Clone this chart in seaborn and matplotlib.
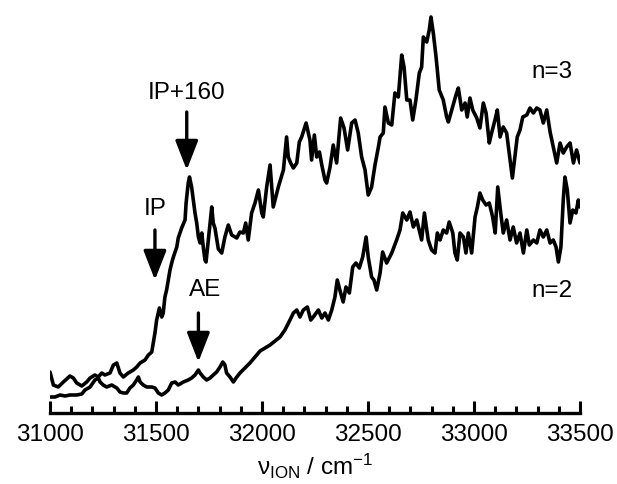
import numpy as np
import pandas as pd
import matplotlib
matplotlib.use("Agg")
import matplotlib.pyplot as plt
from matplotlib.ticker import MultipleLocator
import seaborn as sns

# ---- data (intensity in arbitrary units) ----
n3_freq = [31000, 31016, 31039, 31063, 31094, 31110, 31126, 31150, 31173, 31189,
           31212, 31228, 31244, 31259, 31283, 31299, 31315, 31330, 31346, 31369,
           31393, 31409, 31425, 31448, 31464, 31480, 31487, 31495, 31503, 31516,
           31527, 31534, 31542, 31550, 31558, 31566, 31574, 31582, 31598, 31605,
           31621, 31637, 31642, 31652, 31658, 31668, 31676, 31684, 31692, 31700,
           31708, 31716, 31723, 31731, 31736, 31747, 31755, 31758, 31763, 31770,
           31778, 31794, 31810, 31825, 31841, 31857, 31881, 31896, 31912, 31923,
           31935, 31951, 31967, 31983, 31999, 32006, 32022, 32038, 32053, 32077,
           32101, 32116, 32124, 32135, 32148, 32164, 32176, 32187, 32208, 32226,
           32234, 32247, 32258, 32271, 32282, 32297, 32305, 32321, 32336, 32352,
           32371, 32387, 32404, 32423, 32439, 32454, 32470, 32486, 32501, 32517,
           32533, 32549, 32557, 32572, 32580, 32596, 32612, 32627, 32643, 32659,
           32670, 32683, 32698, 32711, 32726, 32742, 32753, 32761, 32777, 32789,
           32797, 32808, 32821, 32836, 32855, 32871, 32879, 32895, 32915, 32926,
           32942, 32958, 32968, 32981, 32994, 33013, 33028, 33044, 33057, 33072,
           33083, 33099, 33110, 33123, 33138, 33154, 33170, 33181, 33193, 33204,
           33217, 33230, 33249, 33264, 33280, 33296, 33311, 33327, 33343, 33359,
           33374, 33390, 33406, 33421, 33437, 33453, 33469, 33484, 33500]
n3_signal = [41, 28, 26, 31, 37, 35, 30, 27, 31, 35,
             38, 36, 40, 38, 40, 48, 50, 40, 36, 40,
             43, 46, 50, 53, 58, 61, 70, 80, 93, 105,
             96, 100, 116, 123, 133, 143, 150, 156, 166, 175,
             185, 193, 210, 230, 236, 226, 213, 200, 190, 176,
             170, 180, 166, 153, 151, 173, 190, 196, 206, 190,
             185, 164, 160, 176, 188, 178, 175, 181, 180, 190,
             173, 200, 210, 223, 200, 196, 226, 248, 206, 226,
             243, 276, 256, 250, 245, 250, 271, 276, 290, 273,
             253, 278, 256, 261, 248, 233, 230, 246, 268, 250,
             295, 285, 263, 290, 293, 280, 256, 243, 218, 226,
             248, 266, 276, 280, 306, 290, 288, 320, 316, 358,
             346, 313, 313, 293, 313, 340, 346, 376, 371, 383,
             396, 380, 356, 323, 313, 296, 291, 303, 318, 325,
             303, 310, 296, 315, 303, 295, 285, 310, 300, 270,
             280, 293, 303, 276, 286, 280, 253, 235, 256, 276,
             283, 296, 298, 305, 300, 305, 303, 290, 303, 281,
             266, 250, 270, 260, 266, 270, 250, 263, 250]

n2_freq = [31000, 31024, 31047, 31071, 31094, 31126, 31150, 31165, 31189, 31212,
           31228, 31236, 31251, 31267, 31291, 31315, 31330, 31346, 31362, 31377,
           31393, 31409, 31417, 31425, 31440, 31456, 31480, 31495, 31511, 31527,
           31542, 31558, 31574, 31590, 31605, 31629, 31652, 31668, 31684, 31700,
           31708, 31723, 31739, 31755, 31770, 31786, 31802, 31815, 31825, 31833,
           31849, 31865, 31881, 31896, 31943, 31991, 32038, 32085, 32108, 32132,
           32148, 32164, 32179, 32195, 32214, 32230, 32242, 32266, 32282, 32297,
           32313, 32329, 32344, 32355, 32371, 32383, 32396, 32412, 32428, 32443,
           32459, 32475, 32491, 32501, 32517, 32528, 32541, 32557, 32569, 32588,
           32612, 32635, 32651, 32664, 32683, 32698, 32714, 32730, 32745, 32753,
           32766, 32784, 32800, 32816, 32827, 32840, 32855, 32871, 32883, 32900,
           32910, 32921, 32934, 32950, 32962, 32973, 32989, 33005, 33016, 33028,
           33041, 33057, 33072, 33088, 33100, 33112, 33126, 33138, 33154, 33170,
           33185, 33201, 33217, 33233, 33249, 33261, 33280, 33296, 33311, 33327,
           33343, 33359, 33374, 33387, 33398, 33410, 33421, 33429, 33440, 33453,
           33466, 33481, 33492, 33500]
n2_signal = [16, 16, 18, 17, 18, 18, 19, 23, 26, 33,
             35, 31, 28, 26, 28, 25, 21, 20, 20, 25,
             28, 33, 36, 31, 28, 26, 26, 25, 20, 18,
             20, 23, 30, 31, 28, 31, 33, 35, 38, 43,
             40, 36, 33, 35, 38, 41, 46, 51, 48, 40,
             36, 31, 36, 40, 50, 62, 68, 76, 83, 93,
             100, 103, 96, 103, 106, 93, 96, 103, 95, 100,
             93, 103, 116, 133, 120, 111, 126, 120, 146, 150,
             145, 156, 176, 156, 136, 133, 123, 140, 161, 150,
             160, 173, 183, 200, 193, 201, 186, 193, 180, 173,
             200, 173, 163, 160, 180, 173, 183, 180, 191, 180,
             160, 153, 180, 176, 160, 180, 160, 196, 206, 220,
             213, 208, 210, 196, 180, 226, 200, 180, 193, 173,
             186, 170, 180, 160, 183, 168, 173, 170, 183, 176,
             183, 170, 173, 166, 151, 166, 213, 236, 223, 190,
             203, 200, 213, 206]

tick_labels = ["31000", "31500", "32000", "32500", "33000", "33500"]
series_names = ["n=3", "n=2"]
marker_names = ["IP", "IP+160", "AE"]
marker_freq = [31495, 31645, 31700]

# ---- build long-form table ----
df = pd.concat([
    pd.DataFrame({"freq": n3_freq, "signal": n3_signal, "series": series_names[0]}),
    pd.DataFrame({"freq": n2_freq, "signal": n2_signal, "series": series_names[1]}),
], ignore_index=True)

sns.set_theme(style="white")
plt.rcParams["font.family"] = ["Liberation Sans", "DejaVu Sans"]
plt.rcParams["mathtext.fontset"] = "custom"
plt.rcParams["mathtext.rm"] = "Liberation Sans"
plt.rcParams["mathtext.it"] = "Liberation Sans:italic"
plt.rcParams["text.color"] = "black"
plt.rcParams["axes.labelcolor"] = "black"
plt.rcParams["xtick.color"] = "black"

fig = plt.figure(figsize=(6.17, 4.84), dpi=100)
ax = fig.add_axes([50 / 617, 71 / 484, 530 / 617, 403 / 484])

for name in series_names:
    sub = df[df["series"] == name]
    sns.lineplot(data=sub, x="freq", y="signal", ax=ax, color="black",
                 linewidth=2.6, estimator=None, sort=False, legend=False)

ax.set_xlim(31000, 33500)
ax.set_ylim(0, 403)

# axes styling
for s in ["left", "top", "right"]:
    ax.spines[s].set_visible(False)
ax.spines["bottom"].set_linewidth(2.4)
ax.spines["bottom"].set_color("black")
ax.set_yticks([])
ax.xaxis.set_major_locator(MultipleLocator(500))
ax.xaxis.set_minor_locator(MultipleLocator(100))
ax.set_xticks([31000 + 500 * i for i in range(len(tick_labels))])
ax.set_xticklabels(tick_labels)
ax.tick_params(axis="x", which="major", direction="in", length=9, width=2.2,
               color="black", labelcolor="black", labelsize=17.5, pad=8, bottom=True)
ax.tick_params(axis="x", which="minor", direction="in", length=5, width=2.2,
               color="black", bottom=True)
ax.set_xlabel("ν$_{\\mathrm{ION}}$ / cm$^{-1}$", fontsize=17.5, labelpad=4, color="black")
ax.set_ylabel("")

# annotations
fs = 17.5
arrow_kw = dict(arrowstyle="-|>,head_length=0.9,head_width=0.35", color="black",
                lw=2.4, shrinkA=0, shrinkB=0, mutation_scale=20)
ax.annotate("", xy=(marker_freq[0], 133), xytext=(marker_freq[0], 183), arrowprops=arrow_kw)
ax.annotate("", xy=(marker_freq[1], 243), xytext=(marker_freq[1], 301), arrowprops=arrow_kw)
ax.annotate("", xy=(marker_freq[2], 51), xytext=(marker_freq[2], 100), arrowprops=arrow_kw)
ax.text(marker_freq[0], 204, marker_names[0], ha="center", va="center", fontsize=fs, color="black")
ax.text(marker_freq[1], 320, marker_names[1], ha="center", va="center", fontsize=fs, color="black")
ax.text(31731, 123, marker_names[2], ha="center", va="center", fontsize=fs, color="black")
ax.text(33368, 341, series_names[0], ha="center", va="center", fontsize=fs, color="black")
ax.text(33368, 122, series_names[1], ha="center", va="center", fontsize=fs, color="black")

fig.savefig("out.png", dpi=100)
